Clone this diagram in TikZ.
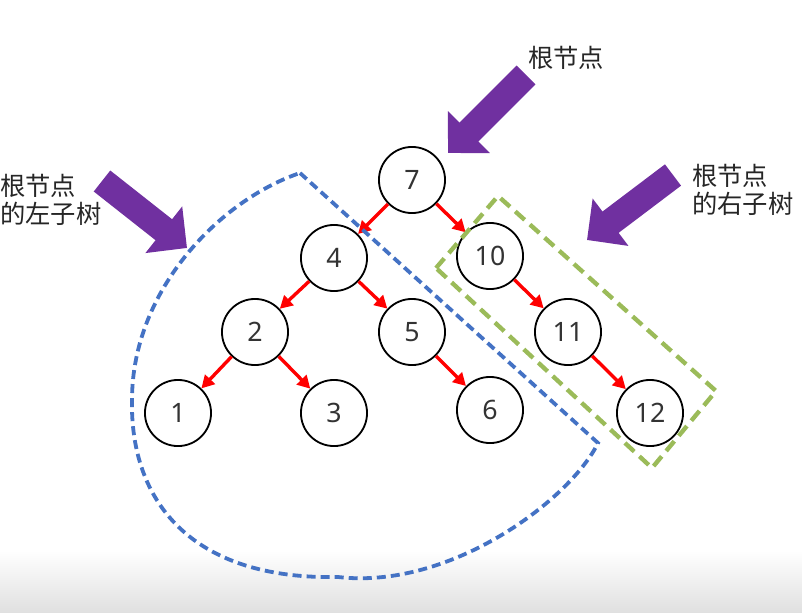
\documentclass[tikz,border=0pt]{standalone}
\usepackage{fontspec}
\setmainfont{Noto Sans}
\newfontfamily\cjk{Noto Sans CJK SC}
\usetikzlibrary{arrows.meta}
\definecolor{roxo}{HTML}{7030A0}
\definecolor{azul}{HTML}{4472C4}
\definecolor{verde}{HTML}{9BBB59}
\definecolor{cinza}{HTML}{333333}

\begin{document}
\begin{tikzpicture}[x=0.025cm, y=-0.025cm,
	no/.style={circle, draw, line width=1.3pt, minimum size=47pt, inner sep=0pt, text=cinza, font=\fontsize{19}{19}\selectfont},
	seta/.style={draw=red, line width=2.4pt, -{Triangle[length=9pt, width=9.5pt]}},
	setagrande/.style={draw=roxo, line width=19pt, -{Triangle[length=21pt, width=41pt]}},
	rotulo/.style={font=\cjk\fontsize{18}{20}\selectfont, inner sep=0pt, align=left, text=black!85}]

	\useasboundingbox (0,0) rectangle (802,612);
	\shade[top color=white, bottom color=black!12] (0,550) rectangle (802,612);

% nós da árvore
	\foreach \n/\x/\y in {7/412/180, 4/334/258, 10/490/256, 2/255/332, 5/412/332, 11/568/332, 1/178/413, 3/334/413, 6/490/410, 12/650/413}
		\node[no] (n\n) at (\x,\y) {\n};

% ligações
	\foreach \a/\b in {7/4, 7/10, 4/2, 4/5, 2/1, 2/3, 5/6, 10/11, 11/12}
		\draw[seta] (n\a) -- (n\b);

% subárvores
	\draw[azul, line width=2.7pt, dash pattern=on 6.4pt off 3.6pt]
		(300,173) -- (598,443) .. controls (570,500) and (450,590) .. (338,577)
		.. controls (190,580) and (130,500) .. (132,400)
		.. controls (132,290) and (220,200) .. cycle;
	\draw[verde, line width=3.1pt, dash pattern=on 9pt off 5pt]
		(436,268) -- (498,196) -- (716,391) -- (652,468) -- cycle;

% rótulos e setas
	\node[rotulo] (raiz) at (566,58) {根节点};
	\node[rotulo, anchor=west] (esq) at (0,200) {根节点\\的左子树};
	\node[rotulo, anchor=west] (dir) at (692,190) {根节点\\的右子树};

	\coordinate (c1) at (526,75);
	\coordinate (p1) at (448,153);
	\coordinate (c2) at (102,181);
	\coordinate (p2) at (187,248);
	\coordinate (c3) at (673,175);
	\coordinate (p3) at (587,240);
	\draw[setagrande] (c1) -- (p1);
	\draw[setagrande] (c2) -- (p2);
	\draw[setagrande] (c3) -- (p3);

\end{tikzpicture}
\end{document}
